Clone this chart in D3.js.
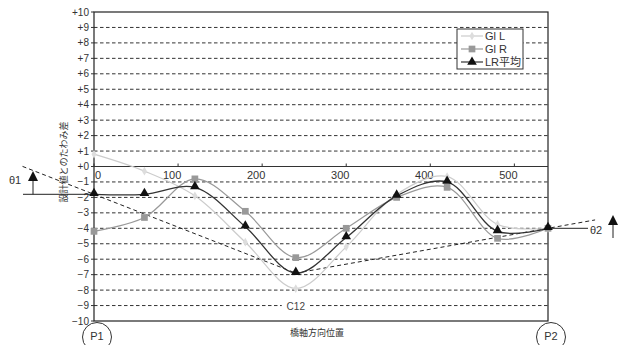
<!DOCTYPE html>
<html><head><meta charset="utf-8">
<script src="https://cdn.jsdelivr.net/npm/d3@7/dist/d3.min.js"></script>
<style>
body{margin:0;background:#fff;}
svg{display:block;font-family:"Liberation Sans",Arial,sans-serif;}
</style></head>
<body><svg id="c" width="626" height="345"></svg>
<script>
// Data
const positions = [0, 60, 120, 180, 240, 300, 360, 420, 480, 540];
const glL = [0.8, -0.3, -1.9, -4.9, -7.9, -5.2, -1.8, -0.65, -3.75, -4.0];
const glR = [-4.2, -3.3, -0.8, -2.9, -5.9, -4.0, -2.0, -1.35, -4.65, -4.0];
const lrAvg = [-1.8, -1.8, -1.35, -3.9, -6.9, -4.6, -1.9, -1.0, -4.2, -4.0];
const xTicks = [0, 100, 200, 300, 400, 500];
const xTickLabels = ["0", "100", "200", "300", "400", "500"];
const yTicks = d3.range(-10, 11);
const seriesNames = ["Gl L", "Gl R", "LR平均"];

const svg = d3.select("#c");
const L = 94, R = 548, T = 12, B = 321;
const x = d3.scaleLinear().domain([0, 540]).range([L, R]);
const y = d3.scaleLinear().domain([-10, 10]).range([B, T]);

// gridlines
const g = svg.append("g");
g.selectAll("line.grid").data(yTicks.filter(v => v !== 0 && Math.abs(v) !== 10)).enter()
  .append("line").attr("x1", L).attr("x2", R).attr("y1", d => y(d)).attr("y2", d => y(d))
  .attr("stroke", "#333").attr("stroke-width", 1).attr("stroke-dasharray", "3.5,2.5");

// frame
g.append("rect").attr("x", L).attr("y", T).attr("width", R - L).attr("height", B - T)
  .attr("fill", "none").attr("stroke", "#222").attr("stroke-width", 1.2);
// zero axis
g.append("line").attr("x1", L).attr("x2", R).attr("y1", y(0)).attr("y2", y(0))
  .attr("stroke", "#333").attr("stroke-width", 1);
g.selectAll("line.xt").data(xTicks).enter().append("line")
  .attr("x1", d => x(d)).attr("x2", d => x(d)).attr("y1", y(0)).attr("y2", y(0) - 3)
  .attr("stroke", "#333");

// y ticks
const ya = svg.append("g");
ya.selectAll("line").data(yTicks).enter().append("line")
  .attr("x1", L - 3).attr("x2", L).attr("y1", d => y(d)).attr("y2", d => y(d)).attr("stroke", "#333");
ya.selectAll("text").data(yTicks).enter().append("text")
  .attr("x", L - 5).attr("y", d => y(d) + 3.5).attr("text-anchor", "end")
  .attr("font-size", 10).attr("fill", "#333")
  .text(d => d > 0 ? "+" + d : d === 0 ? "+0" : "\u2212" + Math.abs(d));

// x tick labels
svg.selectAll("text.xl").data(xTicks).enter().append("text")
  .attr("x", (d, i) => x(d) + (i === 0 ? 4 : -6)).attr("y", y(0) + 12).attr("text-anchor", "middle")
  .attr("font-size", 11).attr("fill", "#333").text((d, i) => xTickLabels[i]);

// C12 label
svg.append("rect").attr("x", x(240) - 14).attr("y", y(-9) - 7).attr("width", 28).attr("height", 14).attr("fill", "#fff");
svg.append("text").attr("x", x(240)).attr("y", y(-9) + 4).attr("text-anchor", "middle")
  .attr("font-size", 10).attr("fill", "#444").text("C12");

// dashed reference lines through LR average at P1, C12, P2
const i1 = 0, i5 = 4, i10 = 9;
const s1 = (lrAvg[i5] - lrAvg[i1]) / (positions[i5] - positions[i1]);
const xl = -85;
svg.append("line").attr("x1", x(xl)).attr("y1", y(lrAvg[i1] + s1 * (xl - positions[i1])))
  .attr("x2", x(positions[i5])).attr("y2", y(lrAvg[i5]))
  .attr("stroke", "#222").attr("stroke-width", 1).attr("stroke-dasharray", "4,3");
const s2 = (lrAvg[i10] - lrAvg[i5]) / (positions[i10] - positions[i5]);
const xr = 596;
svg.append("line").attr("x1", x(positions[i5])).attr("y1", y(lrAvg[i5]))
  .attr("x2", x(xr)).attr("y2", y(lrAvg[i5] + s2 * (xr - positions[i5])))
  .attr("stroke", "#222").attr("stroke-width", 1).attr("stroke-dasharray", "4,3");

// theta annotations
svg.append("line").attr("x1", 23).attr("x2", x(0)).attr("y1", y(lrAvg[0])).attr("y2", y(lrAvg[0])).attr("stroke", "#222");
svg.append("line").attr("x1", 33).attr("x2", 33).attr("y1", y(lrAvg[0])).attr("y2", 178).attr("stroke", "#222");
svg.append("path").attr("d", "M33,171 L28,181 L38,181 Z").attr("fill", "#111");
svg.append("text").attr("x", 9).attr("y", 184).attr("font-size", 11).attr("fill", "#333").text("θ1");

svg.append("line").attr("x1", x(540)).attr("x2", 588).attr("y1", y(lrAvg[9])).attr("y2", y(lrAvg[9])).attr("stroke", "#222");
svg.append("text").attr("x", 590).attr("y", 234).attr("font-size", 11).attr("fill", "#333").text("θ2");
svg.append("line").attr("x1", 613).attr("x2", 613).attr("y1", 238).attr("y2", 222).attr("stroke", "#222");
svg.append("path").attr("d", "M613,215 L608,225 L618,225 Z").attr("fill", "#111");

// series lines
const line = vals => d3.line().x((d, i) => x(positions[i])).y(d => y(d)).curve(d3.curveCatmullRom.alpha(0.5))(vals);
svg.append("path").attr("d", line(glL)).attr("fill", "none").attr("stroke", "#ccc").attr("stroke-width", 1.2);
svg.append("path").attr("d", line(glR)).attr("fill", "none").attr("stroke", "#999").attr("stroke-width", 1.2);
svg.append("path").attr("d", line(lrAvg)).attr("fill", "none").attr("stroke", "#333").attr("stroke-width", 1.3);

const diamond = d3.symbol().type(d3.symbolDiamond).size(22);
const square = d3.symbol().type(d3.symbolSquare).size(45);
const tri = d3.symbol().type(d3.symbolTriangle).size(40);
svg.selectAll("path.l").data(glL).enter().append("path").attr("d", diamond)
  .attr("transform", (d, i) => `translate(${x(positions[i])},${y(d)})`).attr("fill", "#ddd");
svg.selectAll("path.r").data(glR).enter().append("path").attr("d", square)
  .attr("transform", (d, i) => `translate(${x(positions[i])},${y(d)})`).attr("fill", "#999");
svg.selectAll("path.a").data(lrAvg).enter().append("path").attr("d", tri)
  .attr("transform", (d, i) => `translate(${x(positions[i])},${y(d) - 1})`).attr("fill", "#111");

// legend
const lg = svg.append("g").attr("transform", "translate(457,29)");
lg.append("rect").attr("width", 66).attr("height", 40).attr("fill", "#fff").attr("stroke", "#333");
const lstroke = ["#ccc", "#999", "#333"];
const lsym = [diamond, square, tri];
const lfill = ["#ddd", "#999", "#111"];
seriesNames.forEach((n, i) => {
  const yy = 7 + i * 13;
  lg.append("line").attr("x1", 4).attr("x2", 26).attr("y1", yy).attr("y2", yy).attr("stroke", lstroke[i]).attr("stroke-width", 1.2);
  lg.append("path").attr("d", lsym[i]).attr("transform", `translate(15,${yy})`).attr("fill", lfill[i]);
  lg.append("text").attr("x", 28).attr("y", yy + 4).attr("font-size", 11).attr("fill", "#333")
    .attr("font-family", "'Liberation Sans','Noto Sans CJK JP',sans-serif").text(n);
});

// axis titles
svg.append("text").attr("transform", `translate(67,${162}) rotate(-90)`).attr("text-anchor", "middle")
  .attr("font-size", 9).attr("fill", "#333").attr("font-family", "'Noto Sans CJK JP',sans-serif")
  .text("設計値とのたわみ差");
svg.append("text").attr("x", 317).attr("y", 336).attr("text-anchor", "middle")
  .attr("font-size", 9).attr("fill", "#333").attr("font-family", "'Noto Sans CJK JP',sans-serif")
  .text("橋軸方向位置");

// P1 / P2 circles
[["P1", 0], ["P2", 540]].forEach(([t, p]) => {
  svg.append("circle").attr("cx", x(p) + 3).attr("cy", 337).attr("r", 14.5).attr("fill", "#fff").attr("stroke", "#333");
  svg.append("text").attr("x", x(p) + 3).attr("y", 340).attr("text-anchor", "middle").attr("font-size", 11).attr("fill", "#333").text(t);
});
</script></body></html>
